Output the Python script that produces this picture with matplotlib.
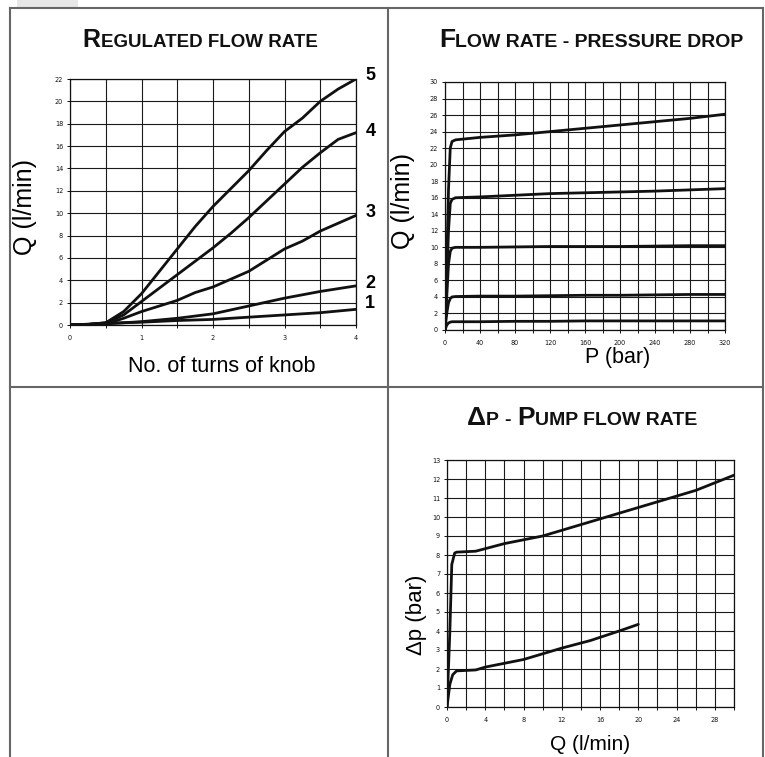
import numpy as np
import matplotlib
matplotlib.use("Agg")
import matplotlib.pyplot as plt
from matplotlib.lines import Line2D
from matplotlib.patches import Rectangle

W, H = 765, 757

# --- regulated flow rate (turns of knob -> Q) ---
turns_a = [0, 0.25, 0.5, 0.75, 1, 1.25, 1.5, 1.75, 2, 2.25, 2.5, 2.75, 3, 3.25, 3.5, 3.75, 4]
q_curve5 = [0, 0.05, 0.2, 1.2, 2.8, 4.8, 6.8, 8.8, 10.6, 12.2, 13.8, 15.6, 17.3, 18.5, 20.0, 21.1, 22.0]
q_curve4 = [0, 0.05, 0.2, 0.9, 2.1, 3.3, 4.5, 5.7, 6.9, 8.2, 9.6, 11.1, 12.6, 14.1, 15.4, 16.6, 17.2]
q_curve3 = [0, 0.05, 0.1, 0.6, 1.2, 1.7, 2.2, 2.9, 3.4, 4.1, 4.8, 5.8, 6.8, 7.5, 8.4, 9.1, 9.8]
turns_b = [0, 0.5, 1, 1.5, 2, 2.5, 3, 3.5, 4]
q_curve2 = [0, 0.1, 0.3, 0.6, 1.0, 1.7, 2.4, 3.0, 3.5]
q_curve1 = [0, 0.15, 0.25, 0.4, 0.5, 0.7, 0.9, 1.1, 1.4]
curve_labels = ["5", "4", "3", "2", "1"]
label_q = [22.3, 17.3, 10.1, 3.7, 1.9]

# --- flow rate vs pressure drop ---
p_bar = [0, 2, 4, 6, 8, 12, 40, 80, 120, 160, 200, 240, 280, 320]
qa = [0, 8, 17, 22.0, 22.8, 23.0, 23.3, 23.6, 24.0, 24.4, 24.8, 25.2, 25.6, 26.1]
qb = [0, 6, 12, 15.3, 15.8, 16.0, 16.1, 16.3, 16.5, 16.6, 16.7, 16.8, 16.95, 17.1]
qc = [0, 4, 8, 9.5, 9.9, 10.0, 10.0, 10.05, 10.1, 10.1, 10.1, 10.15, 10.2, 10.2]
qd = [0, 2, 3.3, 3.8, 4.0, 4.05, 4.1, 4.1, 4.15, 4.2, 4.2, 4.25, 4.3, 4.3]
qe = [0, 0.6, 0.85, 0.95, 1.0, 1.0, 1.0, 1.05, 1.05, 1.1, 1.1, 1.1, 1.1, 1.1]

# --- delta p vs pump flow rate ---
q_high = [0, 0.3, 0.5, 0.8, 1, 3, 6, 10, 14, 18, 22, 26, 30]
dp_high = [0, 4.0, 7.5, 8.1, 8.15, 8.2, 8.6, 9.0, 9.6, 10.2, 10.8, 11.4, 12.2]
q_low = [0, 0.3, 0.6, 1, 3, 4, 8, 12, 15, 18, 20]
dp_low = [0, 1.2, 1.7, 1.9, 1.95, 2.1, 2.5, 3.1, 3.5, 4.0, 4.35]

fig = plt.figure(figsize=(W / 100, H / 100), dpi=100)
FONT = "Liberation Sans"
CURVE = dict(color="#111111", lw=2.0, solid_capstyle="round", solid_joinstyle="round")


def fx(x):
    return x / W


def fy(y):
    return 1 - y / H


def make_axes(left, top, right, bottom):
    ax = fig.add_axes([fx(left), fy(bottom), (right - left) / W, (bottom - top) / H])
    ax.grid(True, which="both", color="#1a1a1a", lw=0.8)
    ax.set_axisbelow(True)
    for s in ax.spines.values():
        s.set_color("#111111")
        s.set_linewidth(0.9)
    ax.tick_params(which="both", direction="out", length=2.5, width=0.7,
                   labelsize=4.7, colors="#111111")
    ax.tick_params(axis="x", which="both", pad=4.5)
    ax.tick_params(axis="y", which="both", pad=2.5)
    return ax


def frame_line(x0, y0, x1, y1):
    fig.add_artist(Line2D([fx(x0), fx(x1)], [fy(y0), fy(y1)], color="#666666", lw=1.5))


def small_caps(parts, xc, yb):
    # big first letters + smaller capitals, laid out side by side
    r = fig.canvas.get_renderer()
    items = []
    for s, size, gap in parts:
        t = fig.text(0, fy(yb), s, fontsize=size, fontweight="bold", family=FONT,
                     va="baseline", ha="left", color="#111111")
        items.append((t, t.get_window_extent(r).width + gap))
    x = xc - sum(w for _, w in items) / 2
    for t, w in items:
        t.set_x(fx(x))
        x += w


def label(x, y, s, size=15.5, **kw):
    fig.text(fx(x), fy(y), s, fontsize=size, family=FONT, ha="center", **kw)


# outer frame and dividers
fig.add_artist(Rectangle((fx(17), fy(8)), (78 - 17) / W, 8 / H, color="#e6e6e6", lw=0))
frame_line(10, 8, 763, 8)
frame_line(10, 8, 10, 757)
frame_line(763, 8, 763, 757)
frame_line(388, 8, 388, 757)
frame_line(10, 387, 763, 387)

# chart 1
ax1 = make_axes(70, 79, 356, 325)
ax1.plot(turns_a, q_curve5, **CURVE)
ax1.plot(turns_a, q_curve4, **CURVE)
ax1.plot(turns_a, q_curve3, **CURVE)
ax1.plot(turns_b, q_curve2, **CURVE)
ax1.plot(turns_b, q_curve1, **CURVE)
ax1.set_xlim(0, 4)
ax1.set_ylim(0, 22)
ax1.set_xticks(np.arange(0, 4.01, 1))
ax1.set_xticks(np.arange(0, 4.01, 0.5), minor=True)
ax1.set_yticks(np.arange(0, 22.01, 2))
for lab, q in zip(curve_labels, label_q):
    ax1.text(4.2, q, lab, fontsize=13, fontweight="bold", family=FONT,
             ha="center", va="center", clip_on=False)
small_caps([("R", 18, 0), ("EGULATED FLOW RATE", 13.5, 0)], 200, 47)
label(25, 207, "Q (l/min)", size=18, rotation=90, va="center")
label(222, 372, "No. of turns of knob", va="baseline")

# chart 2
ax2 = make_axes(445, 82, 725, 330)
for q in (qa, qb, qc, qd, qe):
    ax2.plot(p_bar, q, **CURVE)
ax2.set_xlim(0, 320)
ax2.set_ylim(0, 30)
ax2.set_xticks(np.arange(0, 321, 40))
ax2.set_xticks(np.arange(0, 321, 20), minor=True)
ax2.set_yticks(np.arange(0, 30.1, 2))
small_caps([("F", 19, 0), ("LOW RATE - PRESSURE DROP", 14, 0)], 591, 47)
label(403, 201, "Q (l/min)", size=18, rotation=90, va="center")
label(618, 363, "P (bar)", va="baseline")

# chart 3
ax3 = make_axes(447, 460, 734, 707)
ax3.plot(q_high, dp_high, **CURVE)
ax3.plot(q_low, dp_low, **CURVE)
ax3.set_xlim(0, 30)
ax3.set_ylim(0, 13)
ax3.set_xticks(np.arange(0, 29, 4))
ax3.set_xticks(np.arange(0, 30.1, 2), minor=True)
ax3.set_yticks(np.arange(0, 13.1, 1))
small_caps([("Δ", 19, 0), ("P", 14, 6), ("-", 14, 6), ("P", 19, 0),
            ("UMP FLOW RATE", 14, 0)], 582, 425)
label(417, 615, "Δp (bar)", size=16, rotation=90, va="center")
label(590, 750, "Q (l/min)", size=15, va="baseline")

fig.savefig("out.png", dpi=100)
